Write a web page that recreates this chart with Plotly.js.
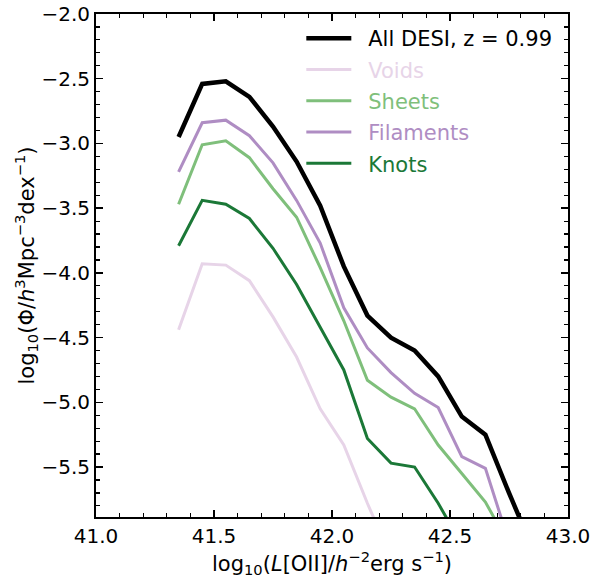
<!DOCTYPE html>
<html>
<head>
<meta charset="utf-8">
<script src="https://cdn.plot.ly/plotly-3.0.1.min.js"></script>
<style>html,body{margin:0;padding:0;background:#fff;}#chart{width:593px;height:579px;}</style>
</head>
<body>
<div id="chart"></div>
<script>
// log10 L[OII] bin centres
const logL = [41.35, 41.45, 41.55, 41.65, 41.75, 41.85, 41.95, 42.05, 42.15, 42.25, 42.35, 42.45, 42.55, 42.65, 42.75, 42.85];

const allDesi  = [-2.95, -2.54, -2.52, -2.64, -2.87, -3.14, -3.48, -3.95, -4.33, -4.50, -4.60, -4.80, -5.11, -5.25, -5.70, -6.13];
const voids    = [-4.44, -3.93, -3.94, -4.06, -4.34, -4.65, -5.05, -5.33, -5.78, -6.20];
const sheets   = [-3.47, -3.01, -2.98, -3.11, -3.35, -3.57, -3.96, -4.37, -4.83, -4.96, -5.05, -5.33, -5.55, -5.77, -6.10];
const filaments= [-3.22, -2.84, -2.82, -2.94, -3.15, -3.44, -3.77, -4.27, -4.58, -4.77, -4.93, -5.04, -5.42, -5.51, -6.08];
const knots    = [-3.79, -3.44, -3.47, -3.58, -3.81, -4.09, -4.42, -4.75, -5.28, -5.47, -5.50, -5.78, -6.10];

const seriesNames = ["All DESI, z = 0.99", "Voids", "Sheets", "Filaments", "Knots"];
const colors = ["#000000", "#e7d4e8", "#7fbf7b", "#af8dc3", "#1b7837"];
const widths = [4.5, 3, 3, 3, 3];
const seriesData = [allDesi, voids, sheets, filaments, knots];

const pad = '\u00a0\u2005';
const traces = seriesData.map((ys, i) => ({
  type: 'scatter',
  mode: 'lines',
  x: logL.slice(0, ys.length),
  y: ys,
  name: i === 0 ? pad + seriesNames[i] : '<span style="color:' + colors[i] + '">' + pad + seriesNames[i] + '</span>',
  legendgroup: 'g' + i,
  line: {color: colors[i], width: widths[i]},
  hoverinfo: 'skip'
}));

const F = 'DejaVu Sans, sans-serif';
const axisCommon = {
  showgrid: false, zeroline: false,
  showline: true, linecolor: '#000', linewidth: 2, mirror: 'allticks',
  ticks: 'inside', ticklen: 7, tickwidth: 1.5, tickcolor: '#000',
  tickfont: {family: F, size: 20, color: '#000'},
  minor: {dtick: 0.1, ticks: 'inside', ticklen: 4, tickwidth: 1.2, tickcolor: '#000'}
};

const layout = {
  width: 593, height: 579,
  margin: {l: 96, r: 25, t: 14, b: 62},
  paper_bgcolor: '#fff', plot_bgcolor: '#fff',
  showlegend: true,
  legend: {
    x: 0.435, y: 0.992, xanchor: 'left', yanchor: 'top',
    bgcolor: 'rgba(0,0,0,0)', borderwidth: 0,
    font: {family: F, size: 21, color: '#000'},
    itemwidth: 45,
    tracegroupgap: 1
  },
  xaxis: Object.assign({}, axisCommon, {
    range: [41.0, 43.0], dtick: 0.5, tick0: 41.0, tickformat: '.1f',
    title: {text: 'log<sub>10</sub>(<i>L</i>[OII]/<i>h</i><sup>−2</sup>erg s<sup>−1</sup>)', font: {family: F, size: 21, color: '#000'}, standoff: 3}
  }),
  yaxis: Object.assign({}, axisCommon, {
    range: [-5.886, -2.0], dtick: 0.5, tick0: -2.0, tickformat: '.1f',
    title: {text: 'log<sub>10</sub>(Φ/<i>h</i><sup>3</sup>Mpc<sup>−3</sup>dex<sup>−1</sup>)', font: {family: F, size: 21, color: '#000'}, standoff: 0}
  })
};

Plotly.newPlot('chart', traces, layout, {displayModeBar: false, staticPlot: true});
</script>
</body>
</html>
